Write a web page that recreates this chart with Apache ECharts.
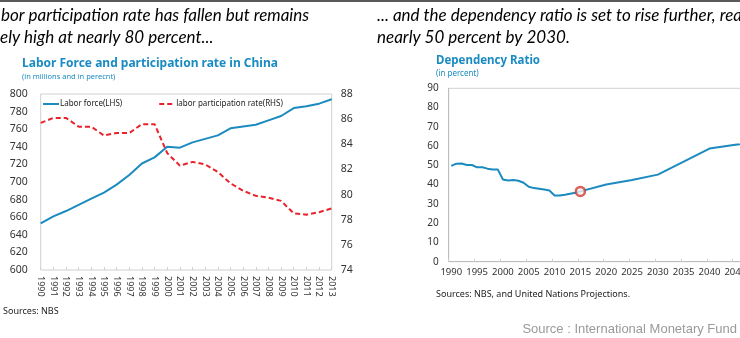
<!DOCTYPE html>
<html>
<head>
<meta charset="utf-8">
<script src="https://cdn.jsdelivr.net/npm/echarts@6/dist/echarts.min.js"></script>
<style>html,body{margin:0;padding:0;background:#fff;}#c{width:740px;height:338px;}</style>
</head>
<body>
<div id="c"></div>
<script>
// ---- Left chart data ----
var lfYears = ['1990','1991','1992','1993','1994','1995','1996','1997','1998','1999','2000','2001','2002','2003','2004','2005','2006','2007','2008','2009','2010','2011','2012','2013'];
var laborForce = [653, 661, 667, 674, 681, 688, 697, 708, 721, 728, 740, 739, 745, 749, 753, 761, 763, 765, 770, 775, 784, 786, 789, 794];
var participationRate = [85.7, 86.1, 86.1, 85.4, 85.4, 84.7, 84.9, 84.9, 85.6, 85.6, 83.3, 82.3, 82.6, 82.4, 81.8, 80.9, 80.3, 79.9, 79.75, 79.5, 78.5, 78.4, 78.6, 78.9];
var leftTicks = [600, 800, 20];
var rightTicks = [74, 88, 2];

// ---- Right chart data ----
var depYears = [1990,1991,1992,1993,1994,1995,1996,1997,1998,1999,2000,2001,2002,2003,2004,2005,2006,2007,2008,2009,2010,2011,2012,2013,2014,2015,2020,2025,2030,2035,2040,2045,2050];
var depRatio = [49.7,50.9,51.0,50.2,50.2,49.0,49.0,48.3,47.9,47.9,42.7,42.2,42.4,42.0,41.0,38.9,38.2,37.9,37.5,37.0,34.4,34.4,34.8,35.3,35.8,36.5,40.1,42.4,45.2,51.9,58.7,60.7,62.3];
var depAxisStart = 1990, depAxisEnd = 2050;
var highlightYear = 2015;
var depTicks = [0, 90, 10];

var depCats = [];
for (var y = depAxisStart; y <= depAxisEnd; y++) depCats.push(String(y));
var depData = depCats.map(function(){ return null; });
depYears.forEach(function(yr, i){ depData[depCats.indexOf(String(yr))] = depRatio[i]; });
var hiData = [[depCats.indexOf(String(highlightYear)), depRatio[depYears.indexOf(highlightYear)]]];

var blue = '#1b8bbf';
var red = '#e8232b';
var titleBlue = '#1a8bc2';
var axisTxt = '#333';
var FONT = '"Noto Sans", "Open Sans", sans-serif';

var chart = echarts.init(document.getElementById('c'), null, {renderer: 'canvas'});
chart.setOption({
  animation: false,
  textStyle: {fontFamily: FONT},
  title: [
    {text: 'Labor Force and participation rate in China', left: 17, top: 53,
     textStyle: {color: titleBlue, fontSize: 12, fontWeight: 'bold', fontFamily: FONT},
     subtext: '(in millions and in perecnt)', itemGap: 3,
     subtextStyle: {color: titleBlue, fontSize: 7.5, fontFamily: FONT}},
    {text: 'Dependency Ratio', left: 431, top: 50,
     textStyle: {color: titleBlue, fontSize: 11.5, fontWeight: 'bold', fontFamily: FONT},
     subtext: '(in percent)', itemGap: 3,
     subtextStyle: {color: titleBlue, fontSize: 8, fontFamily: FONT}}
  ],
  legend: [
    {data: ['Labor force(LHS)', 'labor participation rate(RHS)'], left: 42, top: 100, padding: 0,
     itemWidth: 16, itemHeight: 8, itemGap: 36,
     itemStyle: {opacity: 0},
     textStyle: {fontSize: 8, color: '#222', padding: [0,0,0,-4]}}
  ],
  grid: [
    {left: 40.7, top: 94, width: 291, height: 176, show: true, borderColor: '#d0d0d0', borderWidth: 1, containLabel: false, outerBoundsMode: 'none'},
    {left: 448.7, top: 88.3, width: 315, height: 173.4, show: true, borderColor: '#d0d0d0', borderWidth: 1, containLabel: false, outerBoundsMode: 'none'}
  ],
  xAxis: [
    {type: 'category', gridIndex: 0, data: lfYears, boundaryGap: false,
     axisLine: {show: false}, axisTick: {show: true, inside: true, length: 3, lineStyle: {color: '#d0d0d0'}},
     axisLabel: {rotate: -90, fontSize: 9, color: axisTxt, margin: 6, interval: 0}},
    {type: 'category', gridIndex: 1, data: depCats, boundaryGap: true,
     axisLine: {show: true, lineStyle: {color: '#bdbdbd'}},
     axisTick: {show: true, inside: true, length: 3, interval: 4, lineStyle: {color: '#d0d0d0'}},
     axisLabel: {fontSize: 9.5, color: axisTxt, margin: 6, interval: 4}}
  ],
  yAxis: [
    {type: 'value', gridIndex: 0, min: leftTicks[0], max: leftTicks[1], interval: leftTicks[2],
     axisLine: {show: false}, axisTick: {show: false}, splitLine: {show: false},
     axisLabel: {fontSize: 10.5, color: axisTxt, margin: 13}},
    {type: 'value', gridIndex: 0, position: 'right', min: rightTicks[0], max: rightTicks[1], interval: rightTicks[2],
     axisLine: {show: false}, axisTick: {show: false}, splitLine: {show: false},
     axisLabel: {fontSize: 10.5, color: axisTxt, margin: 9}},
    {type: 'value', gridIndex: 1, min: depTicks[0], max: depTicks[1], interval: depTicks[2],
     axisLine: {show: true, lineStyle: {color: '#bdbdbd'}}, axisTick: {show: false}, splitLine: {show: false},
     axisLabel: {fontSize: 10, color: axisTxt, margin: 10}}
  ],
  series: [
    {name: 'Labor force(LHS)', type: 'line', xAxisIndex: 0, yAxisIndex: 0, data: laborForce,
     symbol: 'none', lineStyle: {color: blue, width: 2}, itemStyle: {color: blue}},
    {name: 'labor participation rate(RHS)', type: 'line', xAxisIndex: 0, yAxisIndex: 1, data: participationRate,
     symbol: 'none', lineStyle: {color: red, width: 2, type: [5, 3]}, itemStyle: {color: red}},
    {name: 'Dependency', type: 'line', xAxisIndex: 1, yAxisIndex: 2, data: depData, connectNulls: true,
     symbol: 'none', lineStyle: {color: blue, width: 2}},
    {name: 'Highlight', type: 'scatter', xAxisIndex: 1, yAxisIndex: 2, data: hiData,
     symbol: 'circle', symbolSize: 9, itemStyle: {color: '#f3f3f3', borderColor: '#d33a2f', borderWidth: 2.5}, z: 5}
  ],
  graphic: [
    {type: 'rect', shape: {x: 0, y: 0, width: 740, height: 2}, style: {fill: '#5a5a5a'}},
    {type: 'text', x: 1, y: 16, style: {text: 'bor participation rate has fallen but remains', font: 'italic 17px Lato, "Open Sans", sans-serif', fill: '#000', verticalAlign: 'middle'}},
    {type: 'text', x: 0, y: 38, style: {text: 'ely high at nearly 80 percent...', font: 'italic 17px Lato, "Open Sans", sans-serif', fill: '#000', verticalAlign: 'middle'}},
    {type: 'text', x: 377, y: 16, style: {text: '... and the dependency ratio is set to rise further, reac', font: 'italic 17px Lato, "Open Sans", sans-serif', fill: '#000', verticalAlign: 'middle'}},
    {type: 'text', x: 377, y: 38, style: {text: 'nearly 50 percent by 2030.', font: 'italic 17px Lato, "Open Sans", sans-serif', fill: '#000', verticalAlign: 'middle'}},
    {type: 'text', x: 3, y: 311, style: {text: 'Sources: NBS', font: '9px "Noto Sans", sans-serif', fill: '#222', verticalAlign: 'middle'}},
    {type: 'text', x: 436, y: 294, style: {text: 'Sources: NBS, and United Nations Projections.', font: '9px "Noto Sans", sans-serif', fill: '#222', verticalAlign: 'middle'}},
    {type: 'text', x: 737, y: 329, style: {text: 'Source : International Monetary Fund', font: '13px "Liberation Sans", Arial, sans-serif', fill: '#9a9a9a', align: 'right', verticalAlign: 'middle'}}
  ]
});
</script>
</body>
</html>
